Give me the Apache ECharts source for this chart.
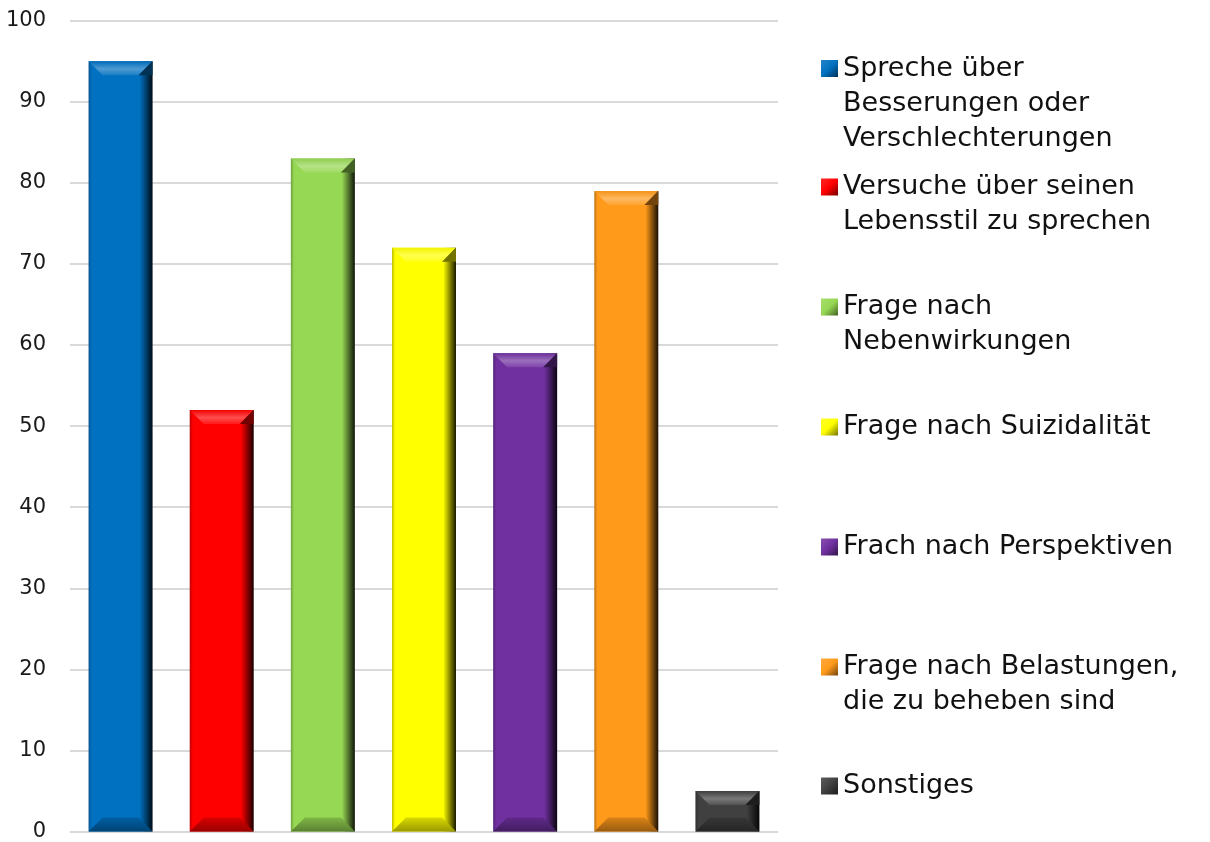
<!DOCTYPE html>
<html>
<head>
<meta charset="utf-8">
<script src="https://cdn.jsdelivr.net/npm/echarts@6/dist/echarts.min.js"></script>
<style>
  html, body { margin: 0; padding: 0; background: #fff; }
  #chart { width: 1210px; height: 842px; }
</style>
</head>
<body>
<div id="chart"></div>
<script>
// Survey answers: what is talked about during the consultation
const categories = [
  'Spreche über\nBesserungen oder\nVerschlechterungen',
  'Versuche über seinen\nLebensstil zu sprechen',
  'Frage nach\nNebenwirkungen',
  'Frage nach Suizidalität',
  'Frach nach Perspektiven',
  'Frage nach Belastungen,\ndie zu beheben sind',
  'Sonstiges'
];
const values = [95, 52, 83, 72, 59, 79, 5];
const colors = ['#0070C0', '#FF0000', '#96D753', '#FFFF00', '#7030A0', '#FF9A1A', '#404040'];
const yTicks = { min: 0, max: 100, interval: 10 };

const FONT = '"Century Gothic", "DejaVu Sans", sans-serif';
const BAR_W = 64;
const BEVEL = 14;

function shade(hex, f) {
  const n = parseInt(hex.slice(1), 16);
  const r = (n >> 16) & 255, g = (n >> 8) & 255, b = n & 255;
  const m = c => Math.round(f < 0 ? c * (1 + f) : c + (255 - c) * f);
  return 'rgb(' + m(r) + ',' + m(g) + ',' + m(b) + ')';
}

function bodyFill(c) {
  return new echarts.graphic.LinearGradient(0, 0, 1, 0, [
    { offset: 0, color: shade(c, -0.25) },
    { offset: 0.05, color: c },
    { offset: 0.80, color: c },
    { offset: 0.90, color: shade(c, -0.45) },
    { offset: 1, color: shade(c, -0.9) }
  ]);
}

function iconFill(c) {
  return new echarts.graphic.LinearGradient(0, 0, 1, 1, [
    { offset: 0, color: shade(c, 0.15) },
    { offset: 0.5, color: c },
    { offset: 1, color: shade(c, -0.55) }
  ]);
}

const barSeries = categories.map((name, i) => ({
  name: name,
  type: 'bar',
  barWidth: BAR_W,
  barGap: '-100%',
  itemStyle: { color: bodyFill(colors[i]) },
  emphasis: { disabled: true },
  data: values.map((v, j) => (j === i ? v : '-')),
  z: 2
}));

// bevel overlay: lighter top edge, darker bottom edge for every bar
const bevelSeries = {
  type: 'custom',
  silent: true,
  z: 3,
  data: values.map((v, i) => [i, v]),
  renderItem: function (params, api) {
    const i = api.value(0);
    const top = api.coord([i, api.value(1)]);
    const base = api.coord([i, 0]);
    const x0 = top[0] - BAR_W / 2, x1 = top[0] + BAR_W / 2;
    const yt = top[1], yb = base[1];
    const b = Math.min(BEVEL, (yb - yt) / 2);
    const c = colors[i];
    return {
      type: 'group',
      children: [
        {
          type: 'polygon',
          shape: { points: [[x0, yt], [x1, yt], [x1 - b, yt + b], [x0 + b, yt + b]] },
          style: {
            fill: new echarts.graphic.LinearGradient(0, 0, 0, 1, [
              { offset: 0, color: shade(c, -0.05) },
              { offset: 0.55, color: shade(c, 0.3) },
              { offset: 1, color: shade(c, 0.1) }
            ])
          }
        },
        {
          type: 'polygon',
          shape: { points: [[x1, yt], [x1, yt + b], [x1 - b, yt + b]] },
          style: { fill: shade(c, -0.55) }
        },
        {
          type: 'polygon',
          shape: { points: [[x0, yb], [x1, yb], [x1 - b, yb - b], [x0 + b, yb - b]] },
          style: {
            fill: new echarts.graphic.LinearGradient(0, 0, 0, 1, [
              { offset: 0, color: shade(c, -0.15) },
              { offset: 1, color: shade(c, -0.4) }
            ])
          }
        }
      ]
    };
  }
};

// one legend block per entry so every icon sits on the first text line
const legendCenters = [68.5, 187, 307, 427, 547, 667, 786];
const LINE_H = 35;
const legends = categories.map((name, i) => {
  const n = name.split('\n').length;
  const totalLines = 2 * n - 1;
  return {
    data: [{ name: name, itemStyle: { color: iconFill(colors[i]) } }],
    left: 821,
    top: legendCenters[i] - (totalLines * LINE_H) / 2,
    padding: 0,
    itemWidth: 17,
    itemHeight: 17,
    icon: 'rect',
    selectedMode: false,
    formatter: nm => '\n'.repeat(n - 1) + nm,
    textStyle: {
      fontFamily: FONT,
      fontSize: 27,
      lineHeight: LINE_H,
      color: '#111'
    }
  };
});

const chart = echarts.init(document.getElementById('chart'), null, { renderer: 'canvas' });
chart.setOption({
  animation: false,
  backgroundColor: '#ffffff',
  grid: { left: 70, right: 432, top: 20.7, bottom: 9.3, containLabel: false },
  legend: legends,
  xAxis: {
    type: 'category',
    data: categories,
    axisLine: { show: false },
    axisTick: { show: false },
    axisLabel: { show: false }
  },
  yAxis: {
    type: 'value',
    min: yTicks.min,
    max: yTicks.max,
    interval: yTicks.interval,
    axisLine: { show: false },
    axisTick: { show: false },
    axisLabel: { fontFamily: FONT, fontSize: 21, color: '#1a1a1a', margin: 24 },
    splitLine: { lineStyle: { color: '#d9d9d9', width: 2 } }
  },
  series: barSeries.concat([bevelSeries])
});
</script>
</body>
</html>
